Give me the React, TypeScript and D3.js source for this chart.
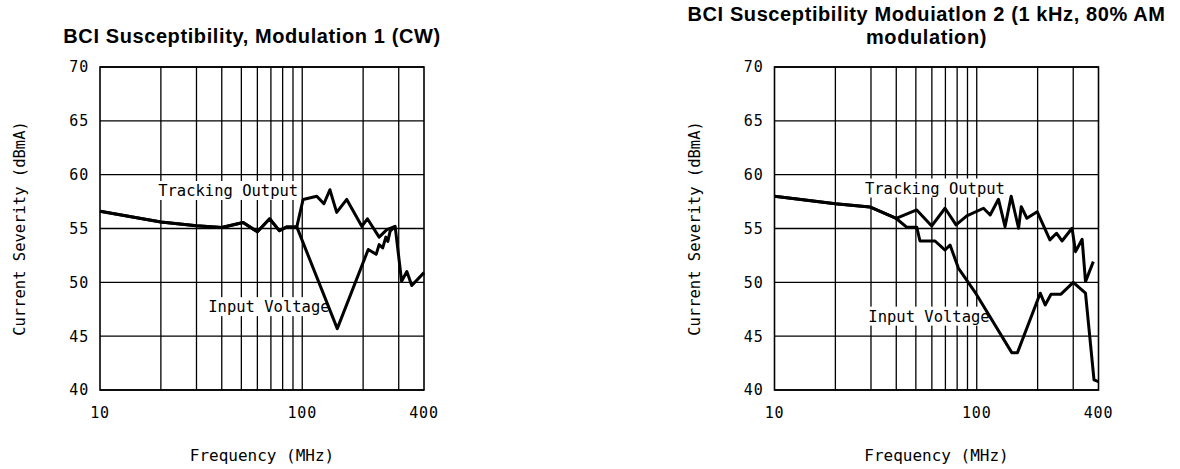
import React from "react";
import * as d3 from "d3";

// ---------- data ----------
const yTicks = [40, 45, 50, 55, 60, 65, 70];
const xTickLabels = [10, 100, 400];
const xGridFreqs = [20, 30, 40, 50, 60, 70, 80, 90, 100, 200, 300];

// Chart 1: Modulation 1 (CW)
const cwTrackingFreq = [10, 20, 30, 40, 51, 60, 69, 77, 84, 94, 101, 118, 128, 137, 148, 166, 197, 210, 240, 262, 288, 310, 329, 348, 400];
const cwTrackingLevel = [56.6, 55.6, 55.25, 55.1, 55.55, 54.7, 55.9, 54.8, 55.15, 55.15, 57.7, 58.0, 57.3, 58.6, 56.5, 57.7, 55.2, 55.9, 54.2, 54.9, 55.2, 50.1, 51.0, 49.7, 50.9];
const cwInputFreq = [10, 20, 30, 40, 51, 60, 69, 77, 84, 94, 149, 212, 232, 240, 250, 259, 265, 272, 288];
const cwInputLevel = [56.6, 55.6, 55.25, 55.1, 55.55, 54.7, 55.9, 54.8, 55.15, 55.15, 45.7, 53.05, 52.6, 53.5, 53.2, 54.2, 53.8, 54.75, 55.2];

// Chart 2: Modulation 2 (1 kHz, 80% AM)
const amTrackingFreq = [10, 20, 29.6, 40, 50.5, 59.9, 69.7, 79, 89.3, 108, 116.5, 128, 138, 148, 161, 166, 177, 199, 230, 248, 264, 296, 308, 332, 345, 377];
const amTrackingLevel = [58.0, 57.3, 57.0, 55.93, 56.72, 55.24, 56.88, 55.33, 56.17, 56.88, 56.26, 57.72, 55.17, 58.0, 55.02, 57.03, 55.95, 56.56, 53.94, 54.56, 53.84, 55.02, 52.85, 54.0, 50.07, 51.92];
const amInputFreq = [10, 20, 29.6, 40, 45, 50.5, 52.4, 62.2, 69.7, 73.8, 81.2, 84.4, 98, 149, 159, 206, 218, 233, 261, 300, 345, 380, 400];
const amInputLevel = [58.0, 57.3, 57.0, 55.93, 55.12, 55.12, 53.84, 53.84, 53.0, 53.47, 51.3, 50.85, 49.1, 43.47, 43.47, 48.99, 47.9, 48.9, 48.9, 50.0, 48.99, 40.94, 40.78];

const seriesNames = ["Tracking Output", "Input Voltage"];
const title1 = ["BCI Susceptibility, Modulation 1 (CW)"];
const title2 = ["BCI Susceptibility Moduiatlon 2 (1 kHz, 80% AM", "modulation)"];
const xAxisTitle = "Frequency (MHz)";
const yAxisTitle = "Current Severity (dBmA)";

// ---------- layout ----------
const W = 1180;
const H = 469;
const PLOT_W = 324;
const TOP = 67;
const BOTTOM = 390;
const MONO = "'DejaVu Sans Mono', monospace";
const SANS = "'Liberation Sans', Arial, sans-serif";

type Pt = [number, number];
const zip = (f: number[], v: number[]): Pt[] => f.map((d, i) => [d, v[i]]);

interface ChartProps {
  x0: number;
  titleLines: string[];
  titleBaselines: number[];
  tracking: Pt[];
  input: Pt[];
  labelPos: Pt[]; // data coords (freq, level) of label start/baseline
}

function Chart({ x0, titleLines, titleBaselines, tracking, input, labelPos }: ChartProps) {
  const xs = d3.scaleLog().domain([10, 400]).range([x0, x0 + PLOT_W]);
  const ys = d3.scaleLinear().domain([40, 70]).range([BOTTOM, TOP]);
  const line = d3
    .line<Pt>()
    .x((d) => xs(d[0]))
    .y((d) => ys(d[1]));
  const labelFont = 15.5;
  const adv = labelFont * 0.602;
  return (
    <g>
      {titleLines.map((t, i) => (
        <text
          key={i}
          x={x0 + 152}
          y={titleBaselines[i]}
          textAnchor="middle"
          fontFamily={SANS}
          fontWeight="bold"
          fontSize={20}
          letterSpacing={0.6}
          fill="#000"
        >
          {t}
        </text>
      ))}
      {/* horizontal grid */}
      {yTicks.map((t) => (
        <line key={"h" + t} x1={x0} x2={x0 + PLOT_W} y1={ys(t)} y2={ys(t)} stroke="#000" strokeWidth={1.3} />
      ))}
      {/* vertical grid */}
      {xGridFreqs.map((f) => (
        <line key={"v" + f} x1={xs(f)} x2={xs(f)} y1={TOP} y2={BOTTOM} stroke="#000" strokeWidth={1.3} />
      ))}
      <rect x={x0} y={TOP} width={PLOT_W} height={BOTTOM - TOP} fill="none" stroke="#000" strokeWidth={1.6} />
      {/* series labels with white boxes */}
      {seriesNames.map((name, i) => {
        const lx = xs(labelPos[i][0]);
        const ly = ys(labelPos[i][1]);
        return (
          <g key={name}>
            <rect x={lx - 3} y={ly - 15} width={name.length * adv + 5} height={19} fill="#fff" />
            <text x={lx} y={ly} fontFamily={MONO} fontSize={labelFont} fill="#000">
              {name}
            </text>
          </g>
        );
      })}
      <path d={line(tracking) || ""} fill="none" stroke="#000" strokeWidth={3} strokeLinejoin="round" />
      <path d={line(input) || ""} fill="none" stroke="#000" strokeWidth={3} strokeLinejoin="round" />
      {/* y tick labels */}
      {yTicks.map((t) => (
        <text
          key={"yl" + t}
          x={x0 - 11}
          y={ys(t)}
          dy="0.36em"
          textAnchor="end"
          fontFamily={MONO}
          fontSize={15}
          letterSpacing={0.8}
          fill="#000"
        >
          {t}
        </text>
      ))}
      {/* x tick labels */}
      {xTickLabels.map((t) => (
        <text
          key={"xl" + t}
          x={xs(t)}
          y={418}
          textAnchor="middle"
          fontFamily={MONO}
          fontSize={15}
          letterSpacing={0.8}
          fill="#000"
        >
          {t}
        </text>
      ))}
      <text x={x0 + PLOT_W / 2} y={461} textAnchor="middle" fontFamily={MONO} fontSize={16} fill="#000">
        {xAxisTitle}
      </text>
      <text
        transform={`translate(${x0 - 80},${(TOP + BOTTOM) / 2}) rotate(-90)`}
        textAnchor="middle"
        dy="0.35em"
        fontFamily={MONO}
        fontSize={15.5}
        fill="#000"
      >
        {yAxisTitle}
      </text>
    </g>
  );
}

export default function App() {
  return (
    <svg
      width={W}
      height={H}
      viewBox={`0 0 ${W} ${H}`}
      style={{ position: "absolute", left: 0, top: 0, background: "#fff" }}
    >
      <rect width={W} height={H} fill="#fff" />
      <Chart
        x0={100}
        titleLines={title1}
        titleBaselines={[43]}
        tracking={zip(cwTrackingFreq, cwTrackingLevel)}
        input={zip(cwInputFreq, cwInputLevel)}
        labelPos={[
          [19.4, 58.02],
          [34.3, 47.23],
        ]}
      />
      <Chart
        x0={774.5}
        titleLines={title2}
        titleBaselines={[21, 43.5]}
        tracking={zip(amTrackingFreq, amTrackingLevel)}
        input={zip(amInputFreq, amInputLevel)}
        labelPos={[
          [28.0, 58.25],
          [29.1, 46.35],
        ]}
      />
    </svg>
  );
}
